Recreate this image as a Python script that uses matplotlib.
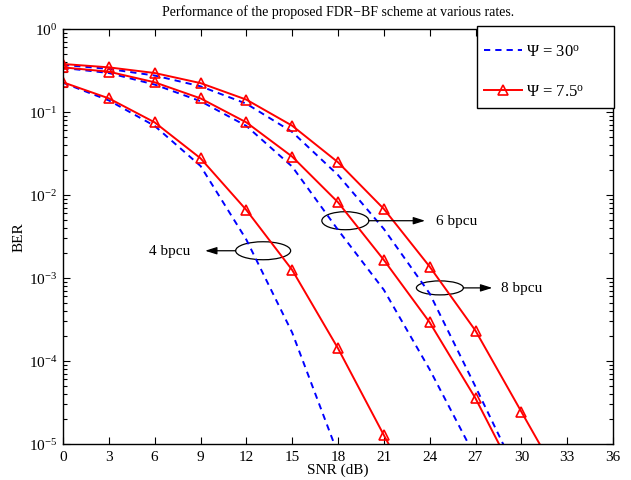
import numpy as np
import matplotlib
matplotlib.use("Agg")
import matplotlib.pyplot as plt
from matplotlib.patches import Ellipse, Rectangle
from matplotlib.ticker import LogLocator, NullFormatter, FixedLocator

plt.rcParams['font.family'] = ['Liberation Serif', 'DejaVu Serif']
plt.rcParams['mathtext.fontset'] = 'custom'
plt.rcParams['mathtext.rm'] = 'Liberation Serif'
plt.rcParams['mathtext.it'] = 'Liberation Serif:italic'
plt.rcParams['mathtext.bf'] = 'Liberation Serif:bold'

# ---------------- data ----------------
snr_a = [0, 3, 6, 9, 12, 15, 18, 21, 24]
snr_b = [0, 3, 6, 9, 12, 15, 18, 21, 24, 27, 30]
snr_c = [0, 3, 6, 9, 12, 15, 18, 21, 24, 27, 30, 33]
snr_blue_a = [0, 3, 6, 9, 12, 15, 18]
snr_blue_b = [0, 3, 6, 9, 12, 15, 18, 21, 24, 27]
snr_blue_c = [0, 3, 6, 9, 12, 15, 18, 21, 24, 27, 30]

# Psi = 7.5 deg (red, triangles)
red_4bpcu = [0.228, 0.146, 0.075, 0.0277, 0.0066, 1.25e-3, 1.42e-4, 1.28e-5, 1.2e-6]
red_6bpcu = [0.345, 0.306, 0.228, 0.146, 0.075, 0.029, 8.17e-3, 1.65e-3, 2.92e-4, 3.55e-5, 3.0e-6]
red_8bpcu = [0.379, 0.345, 0.295, 0.223, 0.141, 0.0684, 0.0248, 6.8e-3, 1.37e-3, 2.32e-4, 2.45e-5, 2.6e-6]

# Psi = 30 deg (blue, dashed)
blue_4bpcu = [0.225, 0.138, 0.068, 0.0224, 2.9e-3, 2.2e-4, 7.6e-6]
blue_6bpcu = [0.34, 0.295, 0.214, 0.135, 0.068, 0.022, 3.8e-3, 7.2e-4, 7.9e-5, 6.9e-6]
blue_8bpcu = [0.37, 0.33, 0.275, 0.204, 0.126, 0.0575, 0.0174, 3.9e-3, 6.5e-4, 4.9e-5, 3.5e-6]

x_ticks = [0, 3, 6, 9, 12, 15, 18, 21, 24, 27, 30, 33, 36]
legend_labels = [r'$\Psi$ = 30$^{\rm o}$', r'$\Psi$ = 7.5$^{\rm o}$']
title_text = 'Performance of the proposed FDR\u2212BF scheme at various rates.'

# annotation definitions: label, ellipse center (dB, BER), ellipse size px, arrow start/end (dB), text x (dB), ha
annotations = [
    ('4 bpcu', (13.1, 2.13e-3), (55, 18), (11.3, 9.3), 8.3, 'right'),
    ('6 bpcu', (18.48, 4.9e-3), (47, 18), (20.0, 23.7), 24.4, 'left'),
    ('8 bpcu', (24.67, 7.6e-4), (47, 14), (26.2, 28.1), 28.66, 'left'),
]

# ---------------- figure ----------------
W, H = 631, 481
fig = plt.figure(figsize=(W / 100, H / 100), dpi=100)
ax_l, ax_r, ax_t, ax_b = 63, 613, 30, 445
ax = fig.add_axes([ax_l / W, 1 - ax_b / H, (ax_r - ax_l) / W, (ax_b - ax_t) / H])

blue_kw = dict(color='#0000ff', lw=1.4, ls=(0, (3.2, 2.6)))
red_kw = dict(color='#ff0000', lw=1.4, marker='^', ms=6.5, mfc='none', mew=1.2)

ax.semilogy(snr_blue_a, blue_4bpcu, label=legend_labels[0], **blue_kw)
ax.semilogy(snr_blue_b, blue_6bpcu, **blue_kw)
ax.semilogy(snr_blue_c, blue_8bpcu, **blue_kw)
ax.semilogy(snr_a, red_4bpcu, label=legend_labels[1], **red_kw)
ax.semilogy(snr_b, red_6bpcu, **red_kw)
ax.semilogy(snr_c, red_8bpcu, **red_kw)

ax.set_xlim(0, 36)
ax.set_ylim(1e-5, 1)
ax.xaxis.set_major_locator(FixedLocator(x_ticks))
ax.yaxis.set_major_locator(LogLocator(base=10, numticks=10))
ax.yaxis.set_minor_locator(LogLocator(base=10, subs=np.arange(2, 10), numticks=20))
ax.yaxis.set_minor_formatter(NullFormatter())
ax.tick_params(which='both', direction='in', top=True, right=True, labelsize=11, width=0.8)
ax.tick_params(which='major', length=5, pad=4)
ax.tick_params(which='minor', length=3)
for s in ax.spines.values():
    s.set_linewidth(1.0)

ax.set_xlabel('SNR (dB)', fontsize=11, labelpad=0)
ax.set_ylabel('BER', fontsize=11, labelpad=2)
ax.set_title(title_text, fontsize=10, pad=10)

# legend frame (drawn separately so the padding matches the reference box)
box_l, box_t, box_w, box_h = 477, 27, 137, 82
ax.add_patch(Rectangle((box_l / W, 1 - (box_t + box_h) / H), box_w / W, box_h / H,
                       transform=fig.transFigure, clip_on=False, facecolor='white',
                       edgecolor='black', lw=1.0, zorder=4.9))
leg = ax.legend(loc='upper left', bbox_to_anchor=(484 / W, 1 - 44.5 / H),
                bbox_transform=fig.transFigure, borderaxespad=0, borderpad=0,
                fontsize=12, frameon=False, handlelength=2.3, handletextpad=0.25,
                labelspacing=1.45)
leg.set_zorder(5)

fig.canvas.draw()
pw, ph = ax_r - ax_l, ax_b - ax_t
to_axes = ax.transAxes.inverted()
for label, (cx, cy), (ew, eh), (a0, a1), tx, ha in annotations:
    c_disp = ax.transData.transform((cx, cy))
    c_ax = to_axes.transform(c_disp)
    ax.add_patch(Ellipse(c_ax, ew / pw, eh / ph, transform=ax.transAxes,
                         fill=False, ec='black', lw=0.9))
    ax.annotate('', xy=(a1, cy), xytext=(a0, cy),
                arrowprops=dict(arrowstyle='-|>,head_length=0.7,head_width=0.22',
                                color='black', lw=0.9, shrinkA=0, shrinkB=0))
    ax.text(tx, cy, label, ha=ha, va='center', fontsize=11)

fig.savefig('out.png', dpi=100)
